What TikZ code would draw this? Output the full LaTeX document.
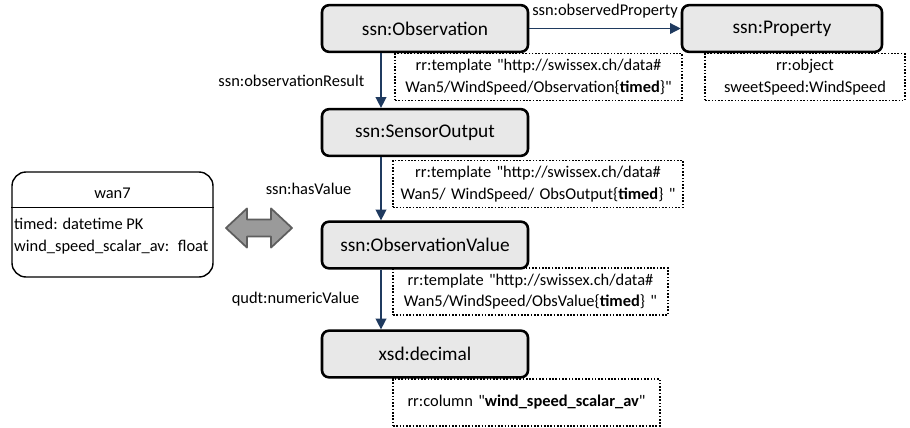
\documentclass[tikz,border=0pt]{standalone}
\usepackage{fontspec}
\setmainfont[Ligatures=TeXOff]{Carlito}
\usetikzlibrary{arrows.meta,shapes.arrows}
\definecolor{navy}{HTML}{1F3A5F}
\definecolor{clsgray}{HTML}{E8E8E8}
\definecolor{linkgray}{HTML}{9A9A9A}
\definecolor{linkedge}{HTML}{5E5E5E}

\begin{document}
\begin{tikzpicture}[
      >={Triangle[length=3.2mm,width=3.2mm]},
      font=\fontsize{14}{18.5}\selectfont,
      cls/.style ={rectangle, rounded corners=6pt, draw=black, line width=2.2pt, fill=clsgray,
                   minimum width=6.18cm, minimum height=1.4cm, inner sep=2pt,
                   font=\fontsize{16.5}{19}\selectfont},
      tmap/.style={rectangle, draw=black, line width=1.4pt, dash pattern=on 1.4pt off 1.4pt,
                   align=center, minimum height=1.4cm, inner sep=0pt},
      table/.style={rectangle, rounded corners=12pt, draw=black, line width=1.2pt,
                   minimum width=6.03cm, minimum height=3.15cm},
      link/.style={double arrow, draw=linkedge, fill=linkgray, line width=1.5pt, line join=round,
                   inner xsep=0pt, inner ysep=0.23cm, double arrow head extend=0.33cm,
                   double arrow tip angle=86, minimum height=1.98cm},
      rel/.style ={->, draw=navy, line width=1.2pt},
      lbl/.style ={inner sep=0pt}
    ]
    \useasboundingbox (0,0) rectangle (27.3,-12.81);
    % --- ontology classes ---
    \node[cls] (obs)  at (12.75,-0.855)  {ssn:Observation};
    \node[cls, minimum width=6.0cm] (prop) at (23.46,-0.855) {ssn:Property};
    \node[cls] (sout) at (12.75,-3.975)  {ssn:SensorOutput};
    \node[cls] (oval) at (12.75,-7.35)   {ssn:ObservationValue};
    \node[cls] (dec)  at (12.75,-10.62)  {xsd:decimal};
    % --- mapping templates ---
    \node[tmap, text width=8.61cm] (tobs)  at (16.155,-2.31)
      {rr:template "http://swissex.ch/data\#\\Wan5/WindSpeed/Observation\{\textbf{timed}\}"};
    \node[tmap, text width=6.0cm]  (tprop) at (24.15,-2.31)
      {rr:object\\sweetSpeed:WindSpeed};
    \node[tmap, text width=8.7cm]  (tsout) at (16.14,-5.52)
      {rr:template "http://swissex.ch/data\#\\Wan5/ WindSpeed/ ObsOutput\{\textbf{timed}\} "};
    \node[tmap, text width=8.25cm] (toval) at (15.915,-8.745)
      {rr:template "http://swissex.ch/data\#\\Wan5/WindSpeed/ObsValue\{\textbf{timed}\} "};
    \node[tmap, text width=8.01cm] (tdec)  at (15.795,-12.075)
      {rr:column "\textbf{wind\_speed\_scalar\_av}"};
    % --- source table ---
    \node[table] (wan7) at (3.375,-6.735) {};
    \draw[line width=1.2pt] ([yshift=-1.08cm]wan7.north west) -- ([yshift=-1.08cm]wan7.north east);
    \node (wan7hd) at (3.375,-5.79) {wan7};
    \node[anchor=west, align=left, inner sep=0pt] (wan7cols) at (0.42,-7.08)
      {timed: datetime PK\\wind\_speed\_scalar\_av: \ float};
    \node[link] (wlink) at (7.77,-6.84) {};
    % --- relations ---
    \draw[rel] (obs) -- node[lbl, above=0.29cm] {ssn:observedProperty} (prop);
    \draw[rel] ([xshift=-1.32cm]obs.south) -- node[lbl, left=0.48cm] {ssn:observationResult} ([xshift=-1.32cm]sout.north);
    \draw[rel] ([xshift=-1.32cm]sout.south) -- node[lbl, left=0.87cm] {ssn:hasValue} ([xshift=-1.32cm]oval.north);
    \draw[rel] ([xshift=-1.32cm]oval.south) -- node[lbl, left=0.63cm] {qudt:numericValue} ([xshift=-1.32cm]dec.north);
\end{tikzpicture}
\end{document}
